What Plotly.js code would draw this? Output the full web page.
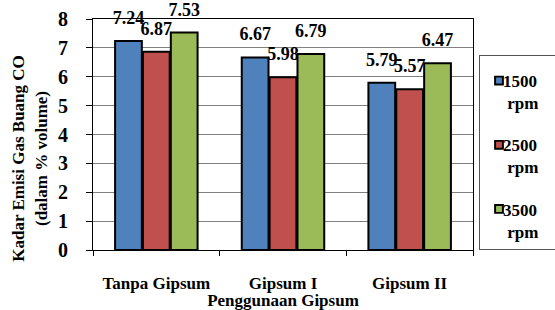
<!DOCTYPE html>
<html>
<head>
<meta charset="utf-8">
<script src="https://cdn.plot.ly/plotly-3.0.1.min.js"></script>
<style>html,body{margin:0;padding:0;background:#fff;}</style>
</head>
<body>
<div id="chart" style="width:555px;height:310px;"></div>
<script>
const categories = ["Tanpa Gipsum", "Gipsum I", "Gipsum II"];
const seriesNames = ["1500<br>\u00A0rpm", "2500<br>\u00A0rpm", "3500<br>\u00A0rpm"];
const rpm1500 = [7.24, 6.67, 5.79];
const rpm2500 = [6.87, 5.98, 5.57];
const rpm3500 = [7.53, 6.79, 6.47];
const colors = ["#4F81BD", "#C0504D", "#9BBB59"];
const yTicks = [0, 1, 2, 3, 4, 5, 6, 7, 8];

const font = "Liberation Serif";
const allSeries = [rpm1500, rpm2500, rpm3500];
const traces = allSeries.map((vals, i) => ({
  type: "bar",
  x: categories,
  y: vals,
  name: seriesNames[i],
  legendgroup: "g" + i,
  marker: {color: colors[i], line: {color: "#000", width: 2}},
  text: vals.map(v => v.toFixed(2)),
  textposition: "outside",
  constraintext: "none",
  textfont: {family: font, size: 18, color: "#000", weight: "bold"},
  cliponaxis: false,
  hoverinfo: "none"
}));

const layout = {
  width: 555, height: 310,
  margin: {l: 93, r: 82, t: 19, b: 60, autoexpand: false},
  paper_bgcolor: "#fff", plot_bgcolor: "#fff",
  barmode: "group",
  bargap: 0.34,
  bargroupgap: 0.04,
  font: {family: font, color: "#000", weight: "bold"},
  xaxis: {
    showline: true, linecolor: "#000", linewidth: 1,
    mirror: true,
    ticks: "outside", tickson: "boundaries", ticklen: 5, tickcolor: "#000",
    showgrid: false,
    ticklabelstandoff: 18,
    tickfont: {family: font, size: 17, weight: "bold"},
    title: {text: "Penggunaan Gipsum", font: {family: font, size: 17, weight: "bold"}, standoff: 0}
  },
  yaxis: {
    range: [0, 8], tickvals: yTicks, ticktext: yTicks.map(String),
    showline: true, linecolor: "#000", linewidth: 1, mirror: true,
    ticks: "outside", ticklen: 6, tickcolor: "#000",
    showgrid: true, gridcolor: "#808080", gridwidth: 1,
    zeroline: false,
    ticklabelstandoff: 14,
    tickfont: {family: font, size: 20, weight: "bold"},
    title: {text: "Kadar Emisi Gas Buang CO<br>(dalam % volume)", font: {family: font, size: 17, weight: "bold"}, standoff: 6}
  },
  legend: {
    x: 0.5, xanchor: "left", y: 0.9, yanchor: "top",
    bordercolor: "#555", borderwidth: 1,
    font: {family: font, size: 17, weight: "bold"},
    tracegroupgap: 17,
    itemwidth: 30,
    valign: "top"
  },
  showlegend: true
};

Plotly.newPlot("chart", traces, layout, {staticPlot: true}).then(gd => {
  gd.querySelectorAll("text.bartext").forEach(t => {
    const tr = t.getAttribute("transform") || "";
    t.setAttribute("transform", "translate(0,-10) " + tr);
  });
  const yt = gd.querySelector(".g-ytitle text");
  if (yt) {
    const tr = yt.getAttribute("transform") || "";
    yt.setAttribute("transform", "translate(0,24) " + tr);
  }
  const leg = gd.querySelector("g.legend");
  if (leg) leg.setAttribute("transform", "translate(479,62)");
  gd.querySelectorAll(".legend .legendpoints path").forEach(p => {
    const tr = p.getAttribute("transform") || "";
    p.setAttribute("transform", tr + " translate(-1,0) scale(0.65)");
    p.style.strokeWidth = "3px";
  });
  gd.querySelectorAll(".legend text.legendtext").forEach(t => {
    const tr = t.getAttribute("transform") || "";
    t.setAttribute("transform", "translate(-17,0) " + tr);
  });
  const bg = gd.querySelector(".legend rect.bg");
  if (bg) {
    bg.setAttribute("y", -7);
    bg.setAttribute("height", 194);
    bg.setAttribute("width", 120);
  }
});
</script>
</body>
</html>
